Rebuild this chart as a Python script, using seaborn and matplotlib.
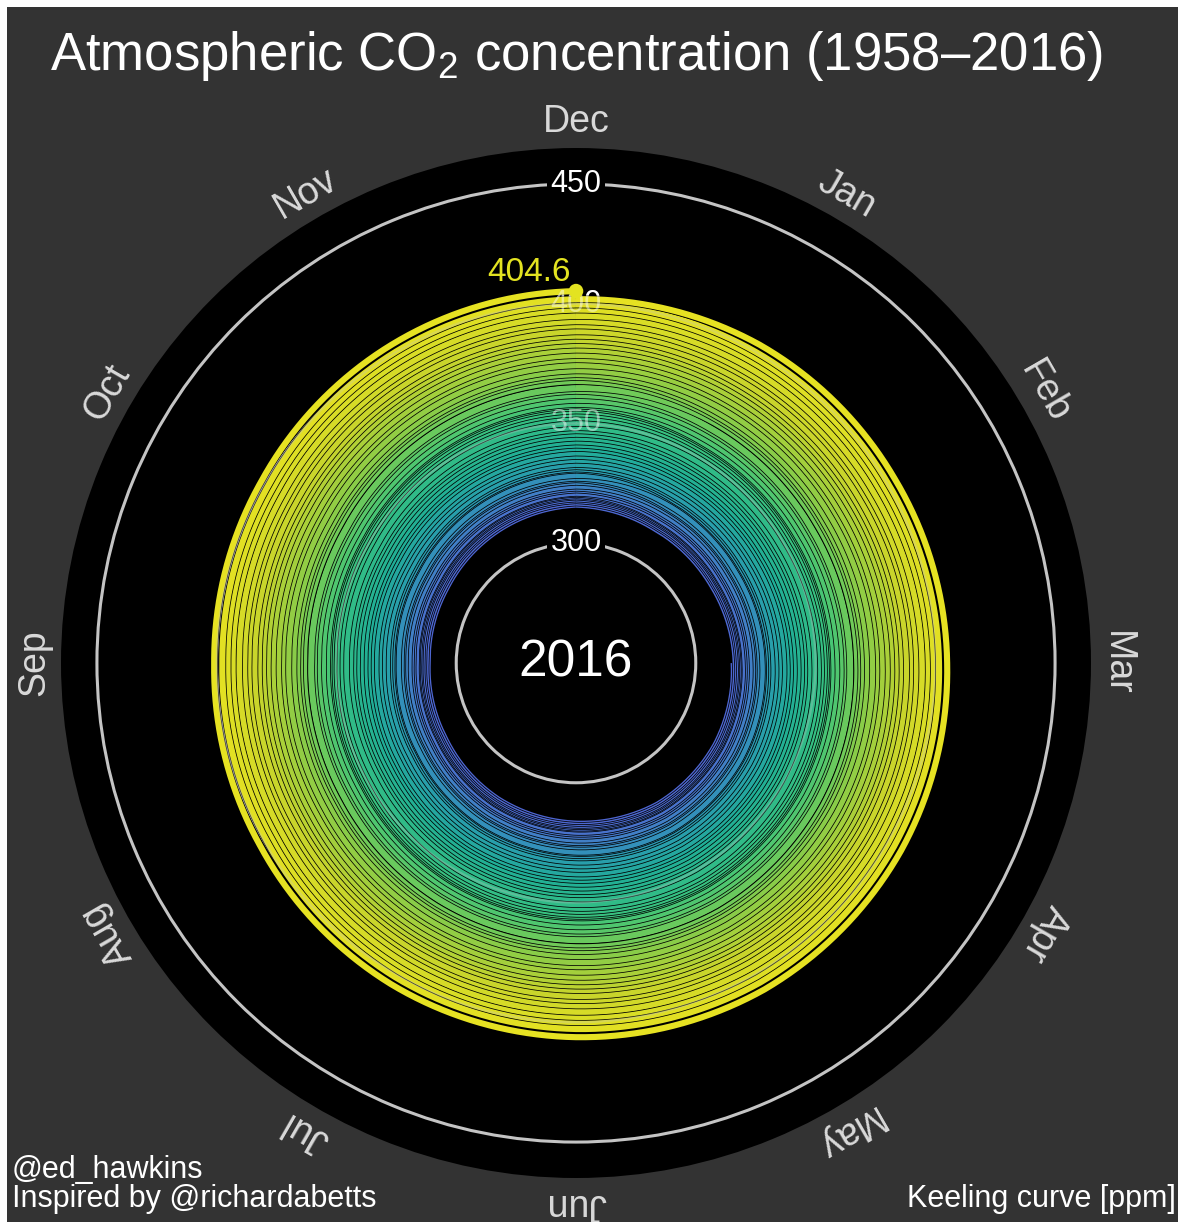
import numpy as np
import pandas as pd
import matplotlib
matplotlib.use("Agg")
import matplotlib.pyplot as plt
import matplotlib.patheffects as pe
from matplotlib.colors import LinearSegmentedColormap
from matplotlib.patches import Rectangle
import seaborn as sns

# ---------------- data ----------------
years = list(range(1958, 2017))
# annual mean CO2 (ppm), Mauna Loa
annual_mean = [315.1, 315.97, 316.91, 317.64, 318.45, 318.99, 319.62, 320.04, 321.38, 322.16,
               323.04, 324.62, 325.68, 326.32, 327.45, 329.68, 330.18, 331.11, 332.04, 333.83,
               335.40, 336.84, 338.75, 340.11, 341.45, 343.05, 344.65, 346.12, 347.42, 349.19,
               351.57, 353.12, 354.39, 355.61, 356.45, 357.10, 358.83, 360.82, 362.61, 363.73,
               366.70, 368.38, 369.55, 371.14, 373.28, 375.80, 377.52, 379.80, 381.90, 383.79,
               385.60, 387.43, 389.90, 391.65, 393.85, 396.52, 398.65, 400.83, 404.24]
# monthly departure from the annual mean (Jan..Dec)
seasonal_offset = [-0.85, -0.55, 0.71, 2.45, 3.13, 1.97, 0.48, -1.90, -3.20, -2.54, -0.67, 1.02]
first_month_1958 = 3  # record starts in March 1958
months = ["Jan", "Feb", "Mar", "Apr", "May", "Jun", "Jul", "Aug", "Sep", "Oct", "Nov", "Dec"]
ring_values = [300, 350, 400, 450]
latest_label = "404.6"
center_label = "2016"
title = "Atmospheric CO$_2$ concentration (1958\u20132016)"
credit_lines = ["@ed_hawkins", "Inspired by @richardabetts"]
source_label = "Keeling curve [ppm]"

# table of monthly values; each year's segment starts at the previous December (theta = 0)
rows = []
prev = None
for y, base in zip(years, annual_mean):
    if prev is not None:
        rows.append({"year": y, "theta": 0.0, "co2": prev})
    for m in range(1, 13):
        if y == 1958 and m < first_month_1958:
            continue
        v = base + seasonal_offset[m - 1]
        rows.append({"year": y, "theta": m * 2 * np.pi / 12, "co2": v})
        prev = v
df = pd.DataFrame(rows)

# ---------------- style ----------------
sns.set_theme(style="dark")
plt.rcParams["font.family"] = ["Liberation Sans", "DejaVu Sans"]
plt.rcParams["mathtext.fontset"] = "custom"
plt.rcParams["mathtext.rm"] = "Liberation Sans"
plt.rcParams["mathtext.it"] = "Liberation Sans"

BG = "#333333"
RING = "#c4c4c4"
YELLOW = "#e3e321"
cmap = LinearSegmentedColormap.from_list(
    "co2", [(0.0, "#4e66d2"), (0.14, "#4876cc"), (0.27, "#2c98b4"), (0.40, "#20af96"),
            (0.58, "#3cc47c"), (0.74, "#88cc48"), (0.87, "#c6d42c"), (1.0, "#e6e222")])

W, H = 1178, 1222
fig = plt.figure(figsize=(W / 100, H / 100), dpi=100, facecolor="white")
fig.patches.append(Rectangle((7 / W, 0), 1 - 7 / W, 1 - 7 / H, transform=fig.transFigure,
                             facecolor=BG, edgecolor="none", zorder=-10))

cx, cy, R = 576, H - 663, 515
ax = fig.add_axes([(cx - R) / W, (cy - R) / H, 2 * R / W, 2 * R / H], projection="polar")
ax.set_facecolor("black")
ax.set_theta_zero_location("N")
ax.set_theta_direction(-1)

sns.lineplot(data=df, x="theta", y="co2", hue="year", palette=cmap,
             hue_norm=(years[0], years[-1]), sort=False, estimator=None,
             legend=False, ax=ax, linewidth=4.4, zorder=3)
for ln in ax.get_lines():
    ln.set_path_effects([pe.Stroke(linewidth=5.5, foreground="black"), pe.Normal()])
    ln.set_solid_capstyle("butt")
    ln.set_solid_joinstyle("round")
    ln.get_path()._interpolation_steps = 40  # draw curved segments in polar space

ax.set_ylim(250, 465)
ax.set_yticks(ring_values)
ax.set_yticklabels([])
ax.set_xticks([])
ax.yaxis.grid(True, color=RING, linewidth=2.2)
ax.xaxis.grid(False)
ax.spines["polar"].set_visible(False)
ax.set_xlabel("")
ax.set_ylabel("")

# radial ring labels
for r in ring_values:
    ax.text(0, r, str(r), color="white", fontsize=22, ha="center", va="center", zorder=1.5,
            bbox=dict(boxstyle="square,pad=0.12", facecolor="black", edgecolor="none"))
    if r in (350, 400):
        ax.text(0, r, str(r), color="white", fontsize=22, ha="center", va="center",
                zorder=5, alpha=0.45)

# faint rings seen through the spiral
tt = np.linspace(0, 2 * np.pi, 361)
for r in (350, 400):
    ax.plot(tt, np.full_like(tt, r), color=RING, lw=1.6, alpha=0.3, zorder=4)

# month labels
for i, name in enumerate(months):
    ang = (i + 1) * 30
    ax.text(np.deg2rad(ang), 476, name, color="#d9d9d9", fontsize=27,
            rotation=-ang, rotation_mode="anchor", ha="center", va="center", clip_on=False)

# latest point
last = df.iloc[-1]
ax.scatter([last["theta"]], [last["co2"]], s=110, color=YELLOW, zorder=6, edgecolors="none")
ax.annotate(latest_label, xy=(last["theta"], last["co2"]), xytext=(-4, 7),
            textcoords="offset points", ha="right", va="baseline", color=YELLOW, fontsize=24,
            zorder=6)

ax.text(0, 250, center_label, color="white", fontsize=37, ha="center", va="center", zorder=6)

# figure texts
fig.text(50 / W, 1 - 70 / H, title, color="white", fontsize=38, ha="left", va="baseline")
fig.text(12 / W, 1 - 1170 / H, credit_lines[0], color="white", fontsize=22, ha="left", va="center")
fig.text(12 / W, 1 - 1199 / H, credit_lines[1], color="white", fontsize=22, ha="left", va="center")
fig.text(1176 / W, 1 - 1199 / H, source_label, color="white", fontsize=22, ha="right", va="center")

fig.savefig("out.png", dpi=100, facecolor=fig.get_facecolor())
